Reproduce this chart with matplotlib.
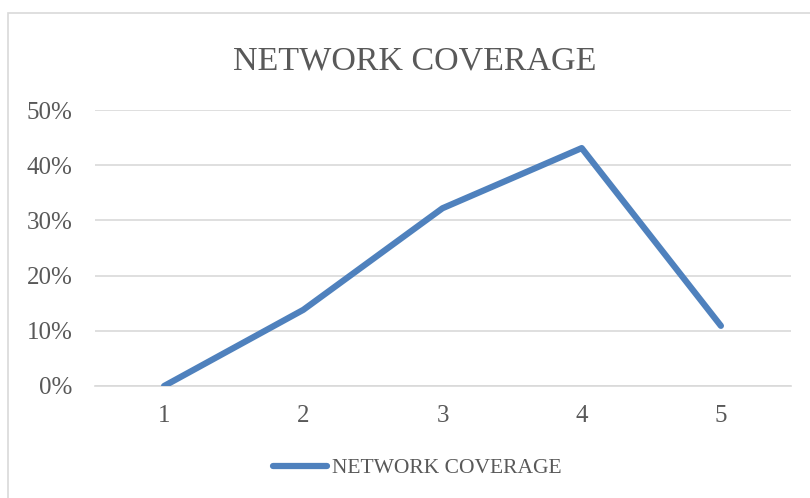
import matplotlib.pyplot as plt
from matplotlib.patches import Rectangle
from matplotlib.ticker import PercentFormatter

# data
categorias = [1, 2, 3, 4, 5]
cobertura = [0.0, 0.138, 0.322, 0.431, 0.109]
nombre_serie = "NETWORK COVERAGE"

AZUL = '#4F81BD'
GRIS_TEXTO = '#595959'
GRIS_GRILLA = '#D9D9D9'

plt.rcParams['font.family'] = ['Liberation Serif', 'DejaVu Serif']

fig = plt.figure(figsize=(8.1, 4.98), dpi=100)
W, H = 810, 498

# chart frame (cut at right and bottom in the reference)
fig.patches.append(Rectangle((7.5 / W, -0.1), 1.0, 1.1 - 13.5 / H,
                             transform=fig.transFigure, fill=False,
                             edgecolor=GRIS_GRILLA, linewidth=1.2))

ax = fig.add_axes([94.5 / W, 1 - 386 / H, 696 / W, 276 / H])

ax.plot(categorias, cobertura, color=AZUL, linewidth=4.5,
        solid_capstyle='round', solid_joinstyle='round',
        label=nombre_serie, zorder=3)

ax.set_xlim(0.5, 5.5)
ax.set_ylim(0, 0.5)
ax.set_xticks(categorias)
ax.set_yticks([0, 0.1, 0.2, 0.3, 0.4, 0.5])
ax.yaxis.set_major_formatter(PercentFormatter(1.0, decimals=0))

ax.grid(axis='y', color=GRIS_GRILLA, linewidth=1.2)
ax.set_axisbelow(True)
for lado in ['top', 'right', 'left']:
    ax.spines[lado].set_visible(False)
ax.spines['bottom'].set_color(GRIS_GRILLA)
ax.spines['bottom'].set_linewidth(1.2)
ax.tick_params(axis='both', length=0, labelsize=18, colors=GRIS_TEXTO)
ax.tick_params(axis='y', pad=16)
ax.tick_params(axis='x', pad=14)
ax.set_facecolor('none')

fig.text(414.5 / W, 1 - 69.5 / H, "NETWORK COVERAGE", ha='center',
         va='baseline', fontsize=24.5, color=GRIS_TEXTO)

fig.legend(loc='center', bbox_to_anchor=(417.5 / W, 1 - 468 / H),
           frameon=False, fontsize=15.5, handlelength=2.5,
           handletextpad=0.25, labelcolor=GRIS_TEXTO)

fig.savefig('out.png', dpi=100)
